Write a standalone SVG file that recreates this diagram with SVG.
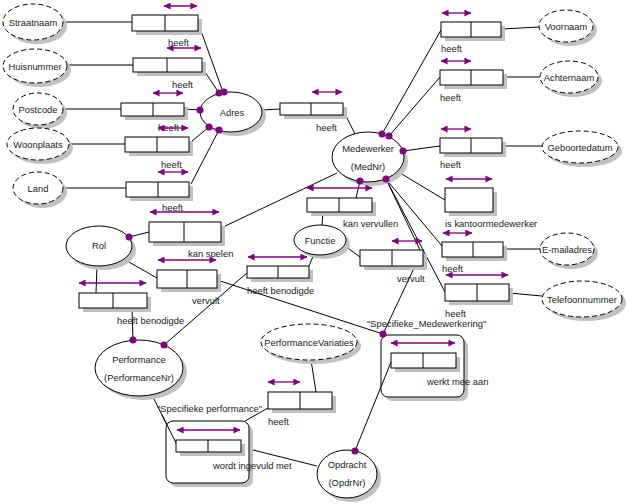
<svg xmlns="http://www.w3.org/2000/svg" width="628" height="504" viewBox="0 0 628 504">
<defs>
<style>
.t{font-family:"Liberation Sans",Arial,sans-serif;font-size:9.4px;fill:#1a1a1a}
.c{text-anchor:middle}
.sh{fill:#c0c0c0;stroke:none}
.bx{fill:#fff;stroke:#000;stroke-width:1}
.vt{fill:#fff;stroke:#000;stroke-width:1;stroke-dasharray:5 3}
.et{fill:#fff;stroke:#000;stroke-width:1}
.ln{stroke:#000;stroke-width:1;fill:none}
.ar{stroke:#800080;stroke-width:1.3;fill:none;marker-start:url(#ah);marker-end:url(#ah)}
.dot{fill:#800080}
</style>
<marker id="ah" viewBox="0 0 8 8" refX="7.5" refY="4" markerWidth="8" markerHeight="7" orient="auto-start-reverse" markerUnits="userSpaceOnUse"><path d="M0,0 L8,4 L0,8 z" fill="#800080"/></marker>
</defs>
<rect width="628" height="504" fill="#fff"/>

<g id="connectors">
<line class="ln" x1="63" y1="22" x2="132" y2="22"/>
<line class="ln" x1="67" y1="65" x2="133" y2="65"/>
<line class="ln" x1="63" y1="109" x2="121" y2="109"/>
<line class="ln" x1="69" y1="144" x2="125" y2="144"/>
<line class="ln" x1="63" y1="188" x2="126" y2="188"/>
<line class="ln" x1="201" y1="31" x2="223" y2="92"/>
<line class="ln" x1="205" y1="72" x2="219" y2="93"/>
<line class="ln" x1="184" y1="109" x2="200" y2="110"/>
<line class="ln" x1="192" y1="141" x2="209" y2="127"/>
<line class="ln" x1="191" y1="184" x2="219" y2="130"/>
<line class="ln" x1="262" y1="110" x2="280" y2="109"/>
<line class="ln" x1="346" y1="116" x2="355" y2="134"/>
<line class="ln" x1="501" y1="29" x2="540" y2="27"/>
<line class="ln" x1="382" y1="134" x2="441" y2="30"/>
<line class="ln" x1="503" y1="77" x2="540" y2="77"/>
<line class="ln" x1="389" y1="136" x2="440" y2="77"/>
<line class="ln" x1="502" y1="146" x2="542" y2="146"/>
<line class="ln" x1="403" y1="151" x2="440" y2="146"/>
<line class="ln" x1="400" y1="173" x2="445" y2="200"/>
<line class="ln" x1="503" y1="249" x2="540" y2="249"/>
<line class="ln" x1="386" y1="179" x2="442" y2="246"/>
<line class="ln" x1="509" y1="293" x2="542" y2="296"/>
<line class="ln" x1="386" y1="179" x2="445" y2="292"/>
<line class="ln" x1="360" y1="181" x2="356" y2="198"/>
<line class="ln" x1="323" y1="212" x2="322" y2="225"/>
<line class="ln" x1="345" y1="246" x2="360" y2="257"/>
<line class="ln" x1="386" y1="179" x2="420" y2="250"/>
<line class="ln" x1="415" y1="266" x2="383" y2="334"/>
<line class="ln" x1="314" y1="254" x2="309" y2="266"/>
<line class="ln" x1="248" y1="272" x2="164" y2="345"/>
<line class="ln" x1="337" y1="173" x2="221" y2="228"/>
<line class="ln" x1="129" y1="237" x2="149" y2="232"/>
<line class="ln" x1="127" y1="261" x2="157" y2="278"/>
<line class="ln" x1="217" y1="280" x2="383" y2="334"/>
<line class="ln" x1="97" y1="266" x2="96" y2="293"/>
<line class="ln" x1="132" y1="308" x2="133" y2="340"/>
<line class="ln" x1="152" y1="395" x2="176" y2="443"/>
<line class="ln" x1="268" y1="408" x2="245" y2="421"/>
<line class="ln" x1="311" y1="360" x2="316" y2="392"/>
<line class="ln" x1="241" y1="447" x2="317" y2="466"/>
<line class="ln" x1="391" y1="362" x2="355" y2="451"/>
</g>

<g id="Straatnaam"><ellipse class="sh" cx="37" cy="26" rx="30" ry="18"/><ellipse class="vt" cx="33" cy="22" rx="30" ry="18"/><text class="t c" x="33" y="25.5">Straatnaam</text></g>
<g id="Huisnummer"><ellipse class="sh" cx="39" cy="70" rx="32" ry="17"/><ellipse class="vt" cx="35" cy="66" rx="32" ry="17"/><text class="t c" x="35" y="69.5">Huisnummer</text></g>
<g id="Postcode"><ellipse class="sh" cx="42" cy="113" rx="25" ry="16"/><ellipse class="vt" cx="38" cy="109" rx="25" ry="16"/><text class="t c" x="38" y="112.5">Postcode</text></g>
<g id="Woonplaats"><ellipse class="sh" cx="42" cy="148" rx="31" ry="16"/><ellipse class="vt" cx="38" cy="144" rx="31" ry="16"/><text class="t c" x="38" y="147.5">Woonplaats</text></g>
<g id="Land"><ellipse class="sh" cx="42" cy="192" rx="25" ry="16"/><ellipse class="vt" cx="38" cy="188" rx="25" ry="16"/><text class="t c" x="38" y="191.5">Land</text></g>
<g id="Voornaam"><ellipse class="sh" cx="570" cy="30" rx="27" ry="16"/><ellipse class="vt" cx="566" cy="26" rx="27" ry="16"/><text class="t c" x="566" y="29.5">Voornaam</text></g>
<g id="Achternaam"><ellipse class="sh" cx="573" cy="81" rx="29" ry="16"/><ellipse class="vt" cx="569" cy="77" rx="29" ry="16"/><text class="t c" x="569" y="80.5">Achternaam</text></g>
<g id="Geboortedatum"><ellipse class="sh" cx="584" cy="151" rx="38" ry="16"/><ellipse class="vt" cx="580" cy="147" rx="38" ry="16"/><text class="t c" x="580" y="150.5">Geboortedatum</text></g>
<g id="E-mailadres"><ellipse class="sh" cx="571" cy="253" rx="27" ry="16"/><ellipse class="vt" cx="567" cy="249" rx="27" ry="16"/><text class="t c" x="567" y="252.5">E-mailadres</text></g>
<g id="Telefoonnummer"><ellipse class="sh" cx="586" cy="303" rx="40" ry="18"/><ellipse class="vt" cx="582" cy="299" rx="40" ry="18"/><text class="t c" x="582" y="302.5">Telefoonnummer</text></g>
<g id="PerformanceVariaties"><ellipse class="sh" cx="313" cy="346" rx="48" ry="18"/><ellipse class="vt" cx="309" cy="342" rx="48" ry="18"/><text class="t c" x="309" y="345.5">PerformanceVariaties</text></g>

<g id="Adres"><ellipse class="sh" cx="235" cy="116" rx="31" ry="20"/><ellipse class="et" cx="231" cy="112" rx="31" ry="20"/><text class="t c" x="232" y="115.5">Adres</text>
<circle class="dot" cx="219" cy="93" r="3.5"/><circle class="dot" cx="224" cy="92" r="3.5"/><circle class="dot" cx="200" cy="110" r="3.5"/><circle class="dot" cx="209" cy="127" r="3.5"/><circle class="dot" cx="219" cy="130" r="3.5"/></g>
<g id="Medewerker"><ellipse class="sh" cx="372" cy="161" rx="36" ry="25"/><ellipse class="et" cx="368" cy="157" rx="36" ry="25"/><text class="t c" x="368" y="151.5">Medewerker</text><text class="t c" x="368" y="169.5">(MedNr)</text>
<circle class="dot" cx="382" cy="134" r="3.5"/><circle class="dot" cx="389" cy="136" r="3.5"/><circle class="dot" cx="403" cy="151" r="3.5"/><circle class="dot" cx="360" cy="181" r="3.5"/><circle class="dot" cx="386" cy="179" r="3.5"/></g>
<g id="Rol"><ellipse class="sh" cx="103" cy="250" rx="33" ry="20"/><ellipse class="et" cx="99" cy="246" rx="33" ry="20"/><text class="t c" x="99" y="248.5">Rol</text><circle class="dot" cx="129" cy="237" r="3.5"/></g>
<g id="Functie"><ellipse class="sh" cx="324" cy="244" rx="26" ry="15"/><ellipse class="et" cx="320" cy="240" rx="26" ry="15"/><text class="t c" x="320" y="243.5">Functie</text></g>
<g id="Performance"><ellipse class="sh" cx="143" cy="372" rx="44" ry="28"/><ellipse class="et" cx="139" cy="368" rx="44" ry="28"/><text class="t c" x="139" y="362.5">Performance</text><text class="t c" x="139" y="380.5">(PerformanceNr)</text>
<circle class="dot" cx="133" cy="340" r="3.5"/><circle class="dot" cx="164" cy="345" r="3.5"/></g>
<g id="Opdracht"><ellipse class="sh" cx="351" cy="478" rx="30" ry="24"/><ellipse class="et" cx="347" cy="474" rx="30" ry="24"/><text class="t c" x="347" y="467.5">Opdracht</text><text class="t c" x="347" y="485.5">(OpdrNr)</text><circle class="dot" cx="355" cy="451" r="3.5"/></g>

<g id="f_straatnaam"><rect class="sh" x="136" y="19" width="66" height="16"/><rect class="bx" x="132" y="15" width="66" height="16"/><line class="ln" x1="165" y1="15" x2="165" y2="31"/><line class="ar" x1="164" y1="6" x2="197" y2="6"/><text class="t" x="168" y="45.5">heeft</text></g>
<g id="f_huisnummer"><rect class="sh" x="137" y="62" width="69" height="14"/><rect class="bx" x="133" y="58" width="69" height="14"/><line class="ln" x1="167" y1="58" x2="167" y2="72"/><line class="ar" x1="167" y1="48" x2="201" y2="48"/><text class="t" x="172" y="87.5">heeft</text></g>
<g id="f_postcode"><rect class="sh" x="125" y="107" width="63" height="13"/><rect class="bx" x="121" y="103" width="63" height="13"/><line class="ln" x1="153" y1="103" x2="153" y2="116"/><line class="ar" x1="153" y1="93" x2="183" y2="93"/><text class="t" x="158" y="130.5">heeft</text></g>
<g id="f_woonplaats"><rect class="sh" x="129" y="141" width="64" height="15"/><rect class="bx" x="125" y="137" width="64" height="15"/><line class="ln" x1="157" y1="137" x2="157" y2="152"/><line class="ar" x1="158" y1="128" x2="188" y2="128"/><text class="t" x="161" y="167.5">heeft</text></g>
<g id="f_land"><rect class="sh" x="130" y="186" width="63" height="15"/><rect class="bx" x="126" y="182" width="63" height="15"/><line class="ln" x1="158" y1="182" x2="158" y2="197"/><line class="ar" x1="158" y1="172" x2="188" y2="172"/><text class="t" x="162" y="210.5">heeft</text></g>
<g id="f_adres"><rect class="sh" x="284" y="107" width="63" height="12"/><rect class="bx" x="280" y="103" width="63" height="12"/><line class="ln" x1="311" y1="103" x2="311" y2="115"/><line class="ar" x1="312" y1="92" x2="342" y2="92"/><text class="t" x="316" y="130.5">heeft</text></g>
<g id="f_voornaam"><rect class="sh" x="445" y="26" width="60" height="15"/><rect class="bx" x="441" y="22" width="60" height="15"/><line class="ln" x1="471" y1="22" x2="471" y2="37"/><line class="ar" x1="442" y1="13" x2="471" y2="13"/><text class="t" x="441" y="51.5">heeft</text></g>
<g id="f_achternaam"><rect class="sh" x="444" y="74" width="63" height="15"/><rect class="bx" x="440" y="70" width="63" height="15"/><line class="ln" x1="471" y1="70" x2="471" y2="85"/><line class="ar" x1="441" y1="61" x2="471" y2="61"/><text class="t" x="440" y="100.5">heeft</text></g>
<g id="f_geboortedatum"><rect class="sh" x="444" y="142" width="62" height="15"/><rect class="bx" x="440" y="138" width="62" height="15"/><line class="ln" x1="471" y1="138" x2="471" y2="153"/><line class="ar" x1="441" y1="129" x2="471" y2="129"/><text class="t" x="440" y="167.5">heeft</text></g>
<g id="f_kantoor"><rect class="sh" x="449" y="192" width="48" height="24"/><rect class="bx" x="445" y="188" width="48" height="24"/><line class="ar" x1="446" y1="179" x2="492" y2="179"/><text class="t" x="445" y="226.5">is kantoormedewerker</text></g>
<g id="f_email"><rect class="sh" x="446" y="246" width="61" height="15"/><rect class="bx" x="442" y="242" width="61" height="15"/><line class="ln" x1="473" y1="242" x2="473" y2="257"/><line class="ar" x1="443" y1="233" x2="472" y2="233"/><text class="t" x="442" y="271.5">heeft</text></g>
<g id="f_telefoon"><rect class="sh" x="449" y="288" width="64" height="17"/><rect class="bx" x="445" y="284" width="64" height="17"/><line class="ln" x1="477" y1="284" x2="477" y2="301"/><line class="ar" x1="446" y1="275" x2="508" y2="275"/><text class="t" x="445" y="316.5">heeft</text></g>
<g id="f_kanvervullen"><rect class="sh" x="311" y="202" width="65" height="14"/><rect class="bx" x="307" y="198" width="65" height="14"/><line class="ln" x1="339" y1="198" x2="339" y2="212"/><line class="ar" x1="307" y1="188" x2="372" y2="188"/><text class="t" x="343" y="226.5">kan vervullen</text></g>
<g id="f_vervult_functie"><rect class="sh" x="364" y="254" width="63" height="16"/><rect class="bx" x="360" y="250" width="63" height="16"/><line class="ln" x1="392" y1="250" x2="392" y2="266"/><line class="ar" x1="392" y1="241" x2="422" y2="241"/><text class="t" x="397" y="281.5">vervult</text></g>
<g id="f_kanspelen"><rect class="sh" x="153" y="226" width="72" height="20"/><rect class="bx" x="149" y="222" width="72" height="20"/><line class="ln" x1="184" y1="222" x2="184" y2="242"/><line class="ar" x1="150" y1="212" x2="219" y2="212"/><text class="t" x="188" y="256.5">kan spelen</text></g>
<g id="f_vervult_rol"><rect class="sh" x="161" y="274" width="60" height="18"/><rect class="bx" x="157" y="270" width="60" height="18"/><line class="ln" x1="187" y1="270" x2="187" y2="288"/><line class="ar" x1="158" y1="260" x2="216" y2="260"/><text class="t" x="192" y="303.5">vervult</text></g>
<g id="f_benodigde_functie"><rect class="sh" x="251" y="270" width="62" height="12"/><rect class="bx" x="247" y="266" width="62" height="12"/><line class="ln" x1="278" y1="266" x2="278" y2="278"/><line class="ar" x1="248" y1="257" x2="307" y2="257"/><text class="t" x="247" y="293.5">heeft benodigde</text></g>
<g id="f_benodigde_rol"><rect class="sh" x="83" y="297" width="68" height="15"/><rect class="bx" x="79" y="293" width="68" height="15"/><line class="ln" x1="113" y1="293" x2="113" y2="308"/><line class="ar" x1="79" y1="283" x2="146" y2="283"/><text class="t" x="117" y="323.5">heeft benodigde</text></g>
<g id="f_perfvar"><rect class="sh" x="272" y="396" width="64" height="17"/><rect class="bx" x="268" y="392" width="64" height="17"/><line class="ln" x1="300" y1="392" x2="300" y2="409"/><line class="ar" x1="268" y1="382" x2="300" y2="382"/><text class="t" x="268" y="424.5">heeft</text></g>
<g id="SpecifiekePerformance"><rect class="sh" x="170" y="425" width="83" height="62" rx="7"/><rect class="bx" x="166" y="421" width="83" height="62" rx="7"/><text class="t" x="157" y="411.5">"Specifieke performance"</text>
<rect class="sh" x="180" y="444" width="65" height="12"/><rect class="bx" x="176" y="440" width="65" height="12"/><line class="ln" x1="208" y1="440" x2="208" y2="452"/><line class="ar" x1="177" y1="430" x2="240" y2="430"/><text class="t" x="213" y="468.5">wordt ingevuld met</text></g>
<g id="SpecifiekeMedewerkering"><rect class="sh" x="385" y="339" width="83" height="62" rx="7"/><rect class="bx" x="381" y="335" width="83" height="62" rx="7"/><text class="t" x="367" y="326.5">"Specifieke_Medewerkering"</text>
<rect class="sh" x="395" y="357" width="65" height="15"/><rect class="bx" x="391" y="353" width="65" height="15"/><line class="ln" x1="423" y1="353" x2="423" y2="368"/><line class="ar" x1="391" y1="343" x2="455" y2="343"/><text class="t" x="427" y="384.5">werkt mee aan</text>
<circle class="dot" cx="383" cy="334" r="3.5"/></g>
<g id="connectors-inside-frames">
<line class="ln" x1="391" y1="362" x2="381" y2="387"/>
<line class="ln" x1="162" y1="415" x2="176" y2="443"/>
</g>
</svg>
